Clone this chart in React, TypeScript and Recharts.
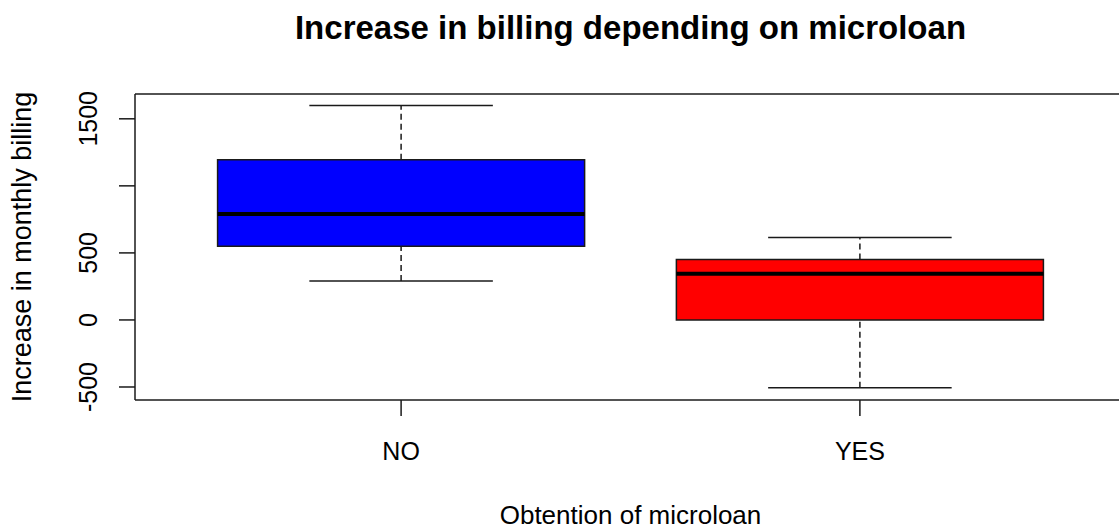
import React from 'react';
import {
  ComposedChart,
  ReferenceArea,
  ReferenceLine,
  Scatter,
  XAxis,
  YAxis,
  Label,
} from 'recharts';

// Five-number summaries per group (lower whisker, Q1, median, Q3, upper whisker)
const groups = ['NO', 'YES'];
const whiskerLow = [290, -505];
const q1 = [550, 0];
const median = [790, 345];
const q3 = [1195, 450];
const whiskerHigh = [1600, 615];

const yTicks = [-500, 0, 500, 1000, 1500];
// base graphics drops the 1000 label because it would overlap its neighbours
const yTickLabels = ['-500', '0', '500', '', '1500'];

const X_DOMAIN: [number, number] = [0.42, 2.58];
const Y_DOMAIN: [number, number] = [-597, 1685];

const GROUP_COLORS = ['#0000ff', '#ff0000'];
const FONT = '"Liberation Sans", Arial, Helvetica, sans-serif';
const INK = '#1a1a1a';

const rows = groups.map((name, i) => ({
  x: i + 1,
  name,
  median: median[i],
}));

const BOX_HALF = 0.4;
const CAP_HALF = 0.2;

const YTick = (props: any) => {
  const { x, y, payload } = props;
  const idx = yTicks.indexOf(payload.value);
  const bx = x - 22;
  return (
    <text
      x={bx}
      y={y}
      transform={`rotate(-90, ${bx}, ${y})`}
      textAnchor="middle"
      fontSize={25}
      fontFamily={FONT}
      fill="#000"
    >
      {idx >= 0 ? yTickLabels[idx] : ''}
    </text>
  );
};

const XTick = (props: any) => {
  const { x, y, payload } = props;
  return (
    <text x={x} y={y + 44} textAnchor="middle" fontSize={25} fontFamily={FONT} fill="#000">
      {groups[payload.value - 1] ?? ''}
    </text>
  );
};

export default function App() {
  return (
    <div
      style={{
        position: 'absolute',
        left: 0,
        top: 0,
        width: 1119,
        height: 531,
        overflow: 'hidden',
        background: '#fff',
      }}
    >
      <div
        style={{
          position: 'absolute',
          left: 135,
          top: 11,
          width: 991,
          textAlign: 'center',
          fontFamily: FONT,
          fontWeight: 'bold',
          fontSize: 33,
          lineHeight: 1,
          color: '#000',
          whiteSpace: 'nowrap',
        }}
      >
        Increase in billing depending on microloan
      </div>
      <ComposedChart
        width={1140}
        height={531}
        data={rows}
        margin={{ top: 94, right: 14, bottom: 0, left: 0 }}
      >
        <XAxis
          dataKey="x"
          type="number"
          domain={X_DOMAIN}
          ticks={[1, 2]}
          allowDataOverflow
          height={131}
          tickSize={16}
          tickMargin={0}
          tickLine={{ stroke: INK, strokeWidth: 1.5 }}
          axisLine={{ stroke: INK, strokeWidth: 1.5 }}
          tick={<XTick />}
        >
          <Label
            content={(p: any) => {
              const vb = p.viewBox;
              return (
                <text
                  x={vb.x + vb.width / 2}
                  y={vb.y + 124}
                  textAnchor="middle"
                  fontSize={26}
                  fontFamily={FONT}
                  fill="#000"
                >
                  Obtention of microloan
                </text>
              );
            }}
          />
        </XAxis>
        <YAxis
          type="number"
          domain={Y_DOMAIN}
          ticks={yTicks}
          allowDataOverflow
          width={135}
          tickSize={16}
          tickMargin={0}
          tickLine={{ stroke: INK, strokeWidth: 1.5 }}
          axisLine={{ stroke: INK, strokeWidth: 1.5 }}
          tick={<YTick />}
        >
          <Label
            content={(p: any) => {
              const vb = p.viewBox;
              const lx = vb.x + 31;
              const ly = vb.y + vb.height / 2;
              return (
                <text
                  x={lx}
                  y={ly}
                  transform={`rotate(-90, ${lx}, ${ly})`}
                  textAnchor="middle"
                  fontSize={27}
                  fontFamily={FONT}
                  fill="#000"
                >
                  Increase in monthly billing
                </text>
              );
            }}
          />
        </YAxis>

        {/* top edge of the plot frame */}
        <ReferenceLine
          segment={[
            { x: X_DOMAIN[0], y: Y_DOMAIN[1] },
            { x: X_DOMAIN[1], y: Y_DOMAIN[1] },
          ]}
          ifOverflow="visible"
          stroke={INK}
          strokeWidth={1.5}
        />

        {groups.map((g, i) => {
          const c = i + 1;
          return (
            <React.Fragment key={g}>
              {/* dashed whiskers */}
              <ReferenceLine
                segment={[
                  { x: c, y: q3[i] },
                  { x: c, y: whiskerHigh[i] },
                ]}
                stroke={INK}
                strokeWidth={1.5}
                strokeDasharray="6 4"
              />
              <ReferenceLine
                segment={[
                  { x: c, y: whiskerLow[i] },
                  { x: c, y: q1[i] },
                ]}
                stroke={INK}
                strokeWidth={1.5}
                strokeDasharray="6 4"
              />
              {/* staples */}
              <ReferenceLine
                segment={[
                  { x: c - CAP_HALF, y: whiskerHigh[i] },
                  { x: c + CAP_HALF, y: whiskerHigh[i] },
                ]}
                stroke={INK}
                strokeWidth={1.5}
              />
              <ReferenceLine
                segment={[
                  { x: c - CAP_HALF, y: whiskerLow[i] },
                  { x: c + CAP_HALF, y: whiskerLow[i] },
                ]}
                stroke={INK}
                strokeWidth={1.5}
              />
              {/* box */}
              <ReferenceArea
                x1={c - BOX_HALF}
                x2={c + BOX_HALF}
                y1={q1[i]}
                y2={q3[i]}
                fill={GROUP_COLORS[i]}
                fillOpacity={1}
                stroke={INK}
                strokeWidth={1.5}
              />
              {/* median */}
              <ReferenceLine
                segment={[
                  { x: c - BOX_HALF, y: median[i] },
                  { x: c + BOX_HALF, y: median[i] },
                ]}
                stroke="#000"
                strokeWidth={4}
              />
            </React.Fragment>
          );
        })}

        <Scatter dataKey="median" shape={() => <g />} isAnimationActive={false} />
      </ComposedChart>
    </div>
  );
}
